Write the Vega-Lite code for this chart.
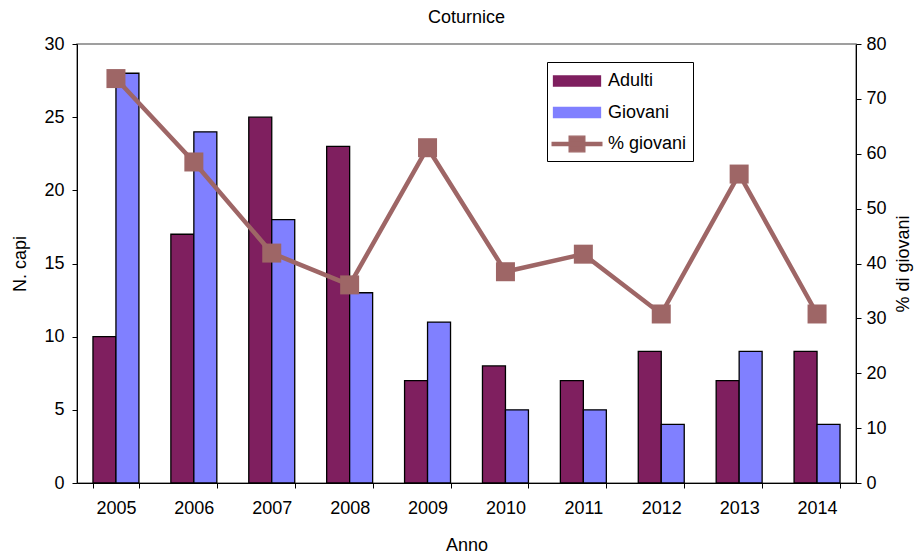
{
  "$schema": "https://vega.github.io/schema/vega-lite/v6.json",
  "width": 779,
  "height": 439,
  "autosize": {"type": "none"},
  "padding": {"left": 77, "top": 44, "right": 58, "bottom": 74},
  "title": {"text": "Coturnice", "fontSize": 18, "fontWeight": "normal", "color": "black", "offset": 8, "anchor": "middle", "frame": "group"},
  "config": {
    "font": "Liberation Sans",
    "view": {"stroke": "#808080", "strokeWidth": 1.5},
    "axis": {
      "domainColor": "black", "tickColor": "black", "labelColor": "black", "titleColor": "black",
      "labelFontSize": 18, "titleFontSize": 18, "titleFontWeight": "normal", "grid": false,
      "tickSize": 5, "domainWidth": 1, "tickWidth": 1
    },
    "legend": {
      "title": null, "orient": "none", "legendX": 470, "legendY": 18,
      "strokeColor": "black", "fillColor": "white",
      "padding": 6, "symbolSize": 576, "symbolOffset": 11, "labelOffset": 18, "rowPadding": 9.5,
      "symbolStrokeWidth": 1.3, "symbolStrokeColor": "black", "labelFontSize": 18, "labelColor": "black"
    }
  },
  "data": {
    "values": [
      {"Anno": "2005", "Adulti": 10, "Giovani": 28, "Pct": 73.7},
      {"Anno": "2006", "Adulti": 17, "Giovani": 24, "Pct": 58.5},
      {"Anno": "2007", "Adulti": 25, "Giovani": 18, "Pct": 41.9},
      {"Anno": "2008", "Adulti": 23, "Giovani": 13, "Pct": 36.1},
      {"Anno": "2009", "Adulti": 7, "Giovani": 11, "Pct": 61.1},
      {"Anno": "2010", "Adulti": 8, "Giovani": 5, "Pct": 38.5},
      {"Anno": "2011", "Adulti": 7, "Giovani": 5, "Pct": 41.7},
      {"Anno": "2012", "Adulti": 9, "Giovani": 4, "Pct": 30.8},
      {"Anno": "2013", "Adulti": 7, "Giovani": 9, "Pct": 56.3},
      {"Anno": "2014", "Adulti": 9, "Giovani": 4, "Pct": 30.8}
    ]
  },
  "layer": [
    {
      "transform": [{"fold": ["Adulti", "Giovani"], "as": ["Serie", "N"]}],
      "mark": {"type": "bar", "stroke": "black", "strokeWidth": 1.3},
      "encoding": {
        "x": {
          "field": "Anno", "type": "ordinal",
          "scale": {"paddingInner": 0.41, "paddingOuter": 0.205},
          "axis": {"title": "Anno", "labelAngle": 0, "tickBand": "extent", "labelPadding": 11, "titlePadding": 19,
                   "encode": {"ticks": {"update": {"y": {"value": -5}}}}}
        },
        "xOffset": {"field": "Serie", "type": "nominal", "sort": ["Adulti", "Giovani"], "scale": {"paddingInner": 0, "paddingOuter": 0}},
        "y": {
          "field": "N", "type": "quantitative",
          "scale": {"domain": [0, 30], "nice": false},
          "axis": {"title": "N. capi", "values": [0, 5, 10, 15, 20, 25, 30], "labelPadding": 8, "titlePadding": 14,
                   "encode": {"ticks": {"update": {"x": {"value": 5}}}}}
        },
        "color": {
          "field": "Serie", "type": "nominal",
          "scale": {"domain": ["Adulti", "Giovani", "% giovani"], "range": ["#7F1F5F", "#8080FF", "#9E6666"]},
          "legend": {
            "encode": {
              "symbols": {
                "update": {
                  "shape": {"signal": "datum.value === '% giovani' ? 'M-2.07,-0.133H2.07V0.133H-2.07ZM-0.654,-0.654H0.654V0.654H-0.654Z' : 'M-1.958,-0.417H1.958V0.417H-1.958Z'"},
                  "fill": {"signal": "scale('color', datum.value)"},
                  "stroke": {"signal": "datum.value === '% giovani' ? scale('color', datum.value) : 'black'"},
                  "strokeWidth": {"value": 1.3}
                }
              }
            }
          }
        }
      }
    },
    {
      "mark": {"type": "line", "strokeWidth": 4.5, "point": {"shape": "square", "size": 361, "filled": true}},
      "encoding": {
        "x": {"field": "Anno", "type": "ordinal"},
        "y": {
          "field": "Pct", "type": "quantitative",
          "scale": {"domain": [0, 80], "nice": false},
          "axis": {"orient": "right", "title": "% di giovani", "values": [0, 10, 20, 30, 40, 50, 60, 70, 80], "labelPadding": 5, "titlePadding": 8, "titleAngle": -90, "titleBaseline": "top",
                   "encode": {"ticks": {"update": {"x": {"value": -5}}}}}
        },
        "color": {
          "datum": "% giovani",
          "legend": {
            "encode": {
              "symbols": {
                "update": {
                  "shape": {"signal": "datum.value === '% giovani' ? 'M-2.07,-0.133H2.07V0.133H-2.07ZM-0.654,-0.654H0.654V0.654H-0.654Z' : 'M-1.958,-0.417H1.958V0.417H-1.958Z'"},
                  "fill": {"signal": "scale('color', datum.value)"},
                  "stroke": {"signal": "datum.value === '% giovani' ? scale('color', datum.value) : 'black'"},
                  "strokeWidth": {"value": 1.3}
                }
              }
            }
          }
        }
      }
    }
  ],
  "resolve": {"scale": {"y": "independent"}}
}
